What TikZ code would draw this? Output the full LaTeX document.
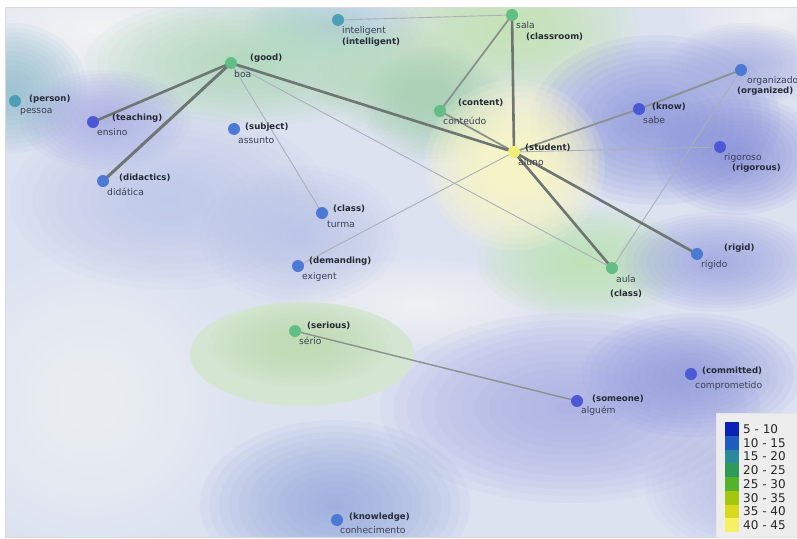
\documentclass[tikz,border=0pt]{standalone}
\usepackage{fontspec}
\setmainfont{DejaVu Sans}
\definecolor{bgbase}{HTML}{DDE2F1}
\definecolor{serfill}{HTML}{CFE6C2}
\definecolor{ngreen}{HTML}{62BE84}
\definecolor{nyellow}{HTML}{F2EF78}
\definecolor{nteal}{HTML}{4C9FB6}
\definecolor{nblue}{HTML}{4D79D6}
\definecolor{npurple}{HTML}{4C59D4}
\definecolor{edark}{HTML}{6E7674}
\definecolor{emid}{HTML}{8A928F}
\definecolor{elight}{HTML}{A9B0B9}
\definecolor{tbold}{HTML}{262A36}
\definecolor{treg}{HTML}{3A4052}
\definecolor{lg1}{HTML}{0A22B8}
\definecolor{lg2}{HTML}{1D5EC0}
\definecolor{lg3}{HTML}{2A8A9C}
\definecolor{lg4}{HTML}{2E9A58}
\definecolor{lg5}{HTML}{55B22C}
\definecolor{lg6}{HTML}{A4C60C}
\definecolor{lg7}{HTML}{D8D81C}
\definecolor{lg8}{HTML}{F6F062}
% soft blob: x, y, rx, ry, colour (HTML), opacity per layer
\newcommand\hmblob[6]{%
  \definecolor{hmtmp}{HTML}{#5}%
  \foreach \k in {1,...,14}{%
    \fill[hmtmp, opacity=#6] (#1,#2) ellipse ({#3*\k/14} and {#4*\k/14});
  }%
}
\tikzset{
  vtx/.style={circle, minimum size=12pt, inner sep=0pt},
  tb/.style={anchor=west, inner sep=0pt, font=\fontsize{8.6}{9}\selectfont\bfseries, text=tbold},
  tr/.style={anchor=west, inner sep=0pt, font=\fontsize{9.2}{10}\selectfont, text=treg},
  ethick/.style={draw=edark, line width=2.6pt},
  emed/.style={draw=emid, line width=1.8pt},
  ethin/.style={draw=elight, line width=0.9pt},
  legtxt/.style={anchor=west, inner sep=0pt, font=\fontsize{12}{12}\selectfont, text=black!85},
}
\begin{document}
\begin{tikzpicture}[x=1pt,y=-1pt]
\useasboundingbox (0,0) rectangle (797,538);
\fill[white] (0,0) rectangle (797,538);
\begin{scope}
\clip (5,7) rectangle (797,537);
\fill[bgbase] (5,7) rectangle (797,537);
% light areas
\hmblob{100}{30}{170}{70}{FFFFFF}{0.08}
\hmblob{90}{400}{150}{150}{FFFFFF}{0.05}
\hmblob{420}{305}{130}{45}{FFFFFF}{0.07}
\hmblob{775}{15}{90}{45}{FFFFFF}{0.07}
% teal
\hmblob{12}{88}{75}{65}{8EBCCB}{0.09}
\hmblob{335}{25}{90}{40}{A9CFD8}{0.08}
% greens
\hmblob{245}{62}{160}{65}{AEDAB6}{0.10}
\hmblob{395}{80}{85}{55}{B2DAB6}{0.09}
\hmblob{510}{28}{130}{75}{C2E3AC}{0.11}
\hmblob{435}{105}{72}{58}{A6D2B2}{0.10}
\hmblob{585}{262}{108}{56}{BCE2B0}{0.11}
% blues and purples
\hmblob{105}{120}{85}{50}{A6AAE4}{0.09}
\hmblob{170}{200}{160}{90}{B6C2EA}{0.07}
\hmblob{300}{235}{100}{70}{B2BEE8}{0.07}
\hmblob{655}{120}{125}{85}{8A94DC}{0.10}
\hmblob{738}{155}{85}{60}{8A92DC}{0.10}
\hmblob{745}{65}{75}{42}{A2AAE2}{0.08}
\hmblob{718}{262}{100}{50}{9EA6E2}{0.10}
\hmblob{570}{408}{190}{95}{A4AAE4}{0.09}
\hmblob{692}{375}{110}{62}{939CDE}{0.10}
\hmblob{745}{485}{100}{70}{AEB4E6}{0.07}
\hmblob{335}{505}{135}{85}{92A6DC}{0.09}
% yellow student
\hmblob{515}{165}{90}{85}{FCF9C4}{0.16}
% serious ellipse
\fill[color=serfill!65!bgbase] (302,354) ellipse (112 and 52);
\hmblob{300}{345}{92}{42}{BCDCAE}{0.09}
\end{scope}
\draw[black!15, line width=0.6pt] (5,7) rectangle (797,537);

% vertices
\node[vtx] (boa) at (231,63) {};
\node[vtx] (inteligent) at (338,20) {};
\node[vtx] (sala) at (512,15) {};
\node[vtx] (pessoa) at (15,101) {};
\node[vtx] (ensino) at (93,122) {};
\node[vtx] (conteudo) at (440,111) {};
\node[vtx] (sabe) at (639,109) {};
\node[vtx] (organizado) at (741,70) {};
\node[vtx] (assunto) at (234,129) {};
\node[vtx] (aluno) at (514,152) {};
\node[vtx] (rigoroso) at (720,147) {};
\node[vtx] (didatica) at (103,181) {};
\node[vtx] (turma) at (322,213) {};
\node[vtx] (exigent) at (298,266) {};
\node[vtx] (rigido) at (697,254) {};
\node[vtx] (aula) at (612,268) {};
\node[vtx] (serio) at (295,331) {};
\node[vtx] (alguem) at (577,401) {};
\node[vtx] (comprometido) at (691,374) {};
\node[vtx] (conhecimento) at (337,520) {};

% edges
\path[ethin] (boa.center) -- (turma.center);
\path[ethin] (boa.center) -- (aula.center);
\path[ethin] (inteligent.center) -- (sala.center);
\path[ethin] (aluno.center) -- (rigoroso.center);
\path[ethin] (aluno.center) -- (exigent.center);
\path[ethin] (organizado.center) -- (aula.center);
\path[emed] (sala.center) -- (conteudo.center);
\path[emed] (conteudo.center) -- (aluno.center);
\path[emed] (aluno.center) -- (sabe.center);
\path[emed] (sabe.center) -- (organizado.center);
\path[emed, line width=1.4pt] (serio.center) -- (alguem.center);
\path[ethick] (boa.center) -- (ensino.center);
\path[ethick, line width=3pt] (boa.center) -- (didatica.center);
\path[ethick] (boa.center) -- (aluno.center);
\path[ethick] (sala.center) -- (aluno.center);
\path[ethick] (aluno.center) -- (aula.center);
\path[ethick] (aluno.center) -- (rigido.center);

% vertex discs on top of the edges
\foreach \n/\c in {boa/ngreen,inteligent/nteal,sala/ngreen,pessoa/nteal,ensino/npurple,conteudo/ngreen,sabe/npurple,organizado/nblue,assunto/nblue,aluno/nyellow,rigoroso/npurple,didatica/nblue,turma/nblue,exigent/nblue,rigido/nblue,aula/ngreen,serio/ngreen,alguem/npurple,comprometido/npurple,conhecimento/nblue}
  \fill[\c] (\n.center) circle (6pt);

% labels
\node[tb] (boa-t) at (250,58) {(good)};
\node[tr] (boa-p) at (234,74) {boa};
\node[tr] (inteligent-p) at (342,31) {inteligent};
\node[tb] (inteligent-t) at (342,42) {(intelligent)};
\node[tr] (sala-p) at (516,25) {sala};
\node[tb] (sala-t) at (526,37) {(classroom)};
\node[tb] (pessoa-t) at (29,99) {(person)};
\node[tr] (pessoa-p) at (20,112) {pessoa};
\node[tb] (ensino-t) at (112,118) {(teaching)};
\node[tr] (ensino-p) at (97,132) {ensino};
\node[tb] (conteudo-t) at (458,103) {(content)};
\node[tr] (conteudo-p) at (443,121) {conteúdo};
\node[tb] (sabe-t) at (652,107) {(know)};
\node[tr] (sabe-p) at (643,120) {sabe};
\node[tr] (organizado-p) at (747,81) {organizado};
\node[tb] (organizado-t) at (737,91) {(organized)};
\node[tb] (assunto-t) at (245,127) {(subject)};
\node[tr] (assunto-p) at (238,140) {assunto};
\node[tb] (aluno-t) at (525,148) {(student)};
\node[tr] (aluno-p) at (518,162) {aluno};
\node[tr] (rigoroso-p) at (724,158) {rigoroso};
\node[tb] (rigoroso-t) at (732,168) {(rigorous)};
\node[tb] (didatica-t) at (119,178) {(didactics)};
\node[tr] (didatica-p) at (107,192) {didática};
\node[tb] (turma-t) at (333,209) {(class)};
\node[tr] (turma-p) at (327,224) {turma};
\node[tb] (exigent-t) at (309,261) {(demanding)};
\node[tr] (exigent-p) at (302,277) {exigent};
\node[tb] (rigido-t) at (724,248) {(rigid)};
\node[tr] (rigido-p) at (701,265) {rígido};
\node[tr] (aula-p) at (616,279) {aula};
\node[tb] (aula-t) at (610,294) {(class)};
\node[tb] (serio-t) at (307,326) {(serious)};
\node[tr] (serio-p) at (299,341) {sério};
\node[tb] (alguem-t) at (592,399) {(someone)};
\node[tr] (alguem-p) at (581,411) {alguém};
\node[tb] (comprometido-t) at (702,371) {(committed)};
\node[tr] (comprometido-p) at (695,386) {comprometido};
\node[tb] (conhecimento-t) at (349,517) {(knowledge)};
\node[tr] (conhecimento-p) at (340,530) {conhecimento};

% legend
\node[draw=black!10, fill=black!7, minimum width=81pt, minimum height=124pt, inner sep=0pt, anchor=north west] (legend) at (716,413) {};
\foreach \c [count=\i] in {lg1,lg2,lg3,lg4,lg5,lg6,lg7,lg8}
  \fill[\c] (725,{422+(\i-1)*13.75}) rectangle (739,{422+\i*13.75});
\foreach \t [count=\i] in {5 - 10,10 - 15,15 - 20,20 - 25,25 - 30,30 - 35,35 - 40,40 - 45}
  \node[legtxt] (leg\i) at (743,{429+(\i-1)*13.75}) {\t};
\end{tikzpicture}
\end{document}
